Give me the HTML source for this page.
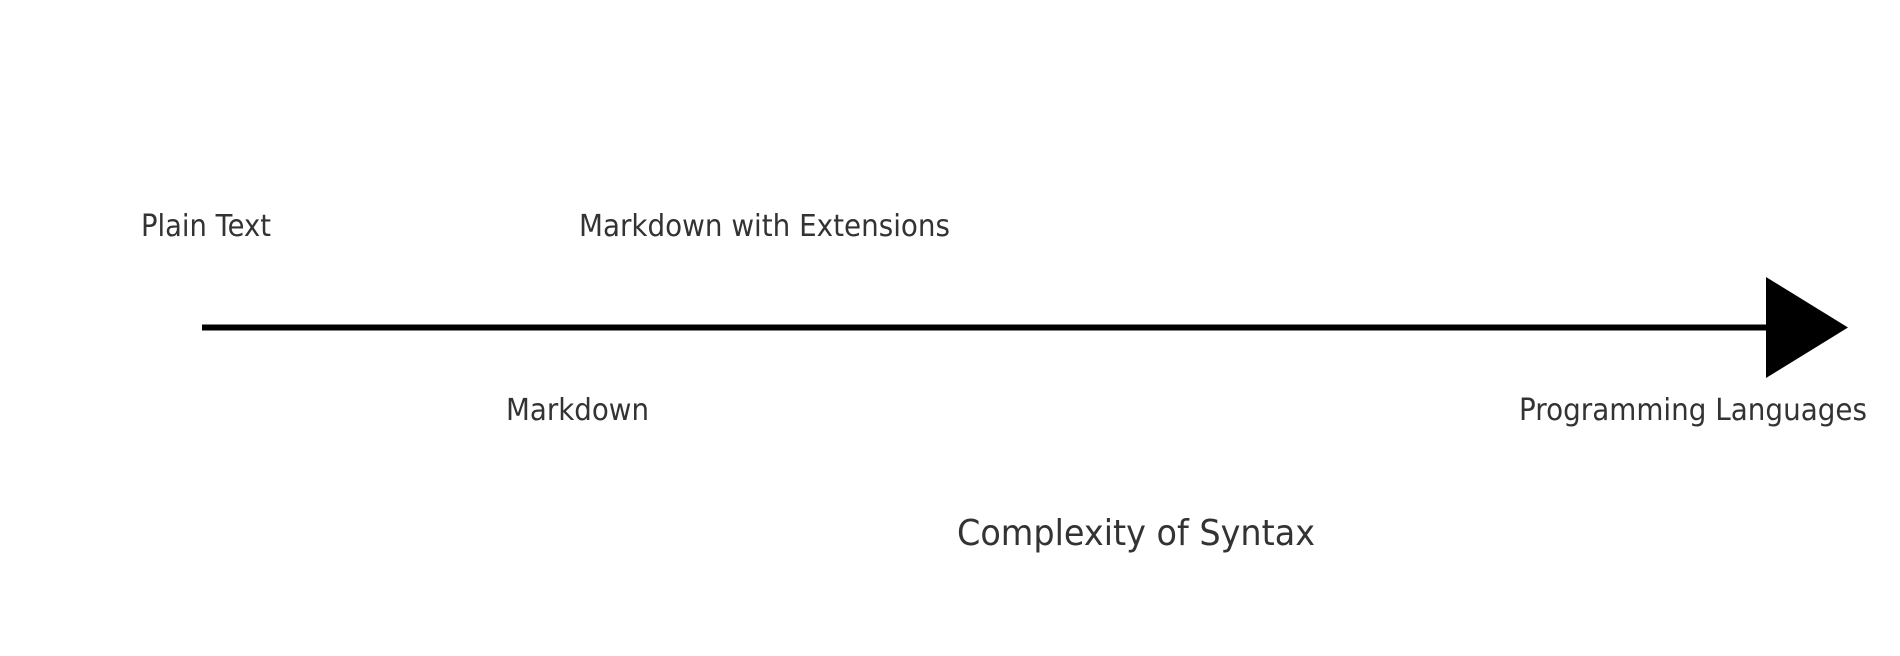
<!DOCTYPE html>
<html><head><meta charset="utf-8"><style>
html,body{margin:0;padding:0;background:#fff;}
svg{display:block;}
text{font-family:"DejaVu Sans","Liberation Sans",sans-serif;fill:#333;}
</style></head><body>
<svg width="1900" height="656" viewBox="0 0 1900 656" xmlns="http://www.w3.org/2000/svg">
<rect width="1900" height="656" fill="#fff"/>
<line x1="202" y1="327.5" x2="1770" y2="327.5" stroke="#000" stroke-width="6"/>
<polygon points="1766,277 1848,327.5 1766,378" fill="#000"/>
<text x="141" y="236" font-size="30" textLength="130" lengthAdjust="spacingAndGlyphs">Plain Text</text>
<text x="579" y="236" font-size="30" textLength="371" lengthAdjust="spacingAndGlyphs">Markdown with Extensions</text>
<text x="506" y="420" font-size="30" textLength="143" lengthAdjust="spacingAndGlyphs">Markdown</text>
<text x="1519" y="420" font-size="30" textLength="348" lengthAdjust="spacingAndGlyphs">Programming Languages</text>
<text x="957" y="545" font-size="36" textLength="358" lengthAdjust="spacingAndGlyphs">Complexity of Syntax</text>
</svg>
</body></html>
